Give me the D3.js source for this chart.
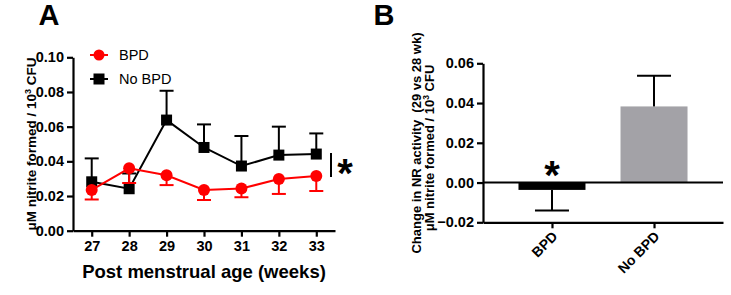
<!DOCTYPE html>
<html>
<head>
<meta charset="utf-8">
<script src="https://cdn.jsdelivr.net/npm/d3@7"></script>
<style>
  body { margin: 0; background: #fff; }
  svg { display: block; font-family: "Liberation Sans", Arial, sans-serif; font-weight: bold; }
</style>
</head>
<body>
<div id="root"></div>
<script>
// panel A data
const weeks = [27, 28, 29, 30, 31, 32, 33];
const bpdMean = [0.0235, 0.036, 0.032, 0.0235, 0.0243, 0.0298, 0.0315];
const bpdLower = [0.018, 0.0275, 0.0263, 0.0177, 0.0193, 0.0212, 0.0229];
const noBpdMean = [0.0282, 0.0242, 0.0638, 0.048, 0.0373, 0.0436, 0.0442];
const noBpdUpper = [0.0417, 0.033, 0.0807, 0.0613, 0.0546, 0.06, 0.0561];
const yTicksA = [0, 0.02, 0.04, 0.06, 0.08, 0.1];

// panel B data
const groups = ["BPD", "No BPD"];
const changeMean = [-0.0037, 0.0383];
const changeErr = [-0.0141, 0.0537];
const yTicksB = [-0.02, 0, 0.02, 0.04, 0.06];

window.onload = function() {
  init();
};

let init = () => {
  let svg = d3.select("#root").append("svg").attr("width", 731).attr("height", 295);
  drawA(svg);
  drawB(svg);
};

// axis text styling shared by both panels
let styleAxis = (a, size) => {
  a.attr("font-size", size).attr("font-family", null);
  a.select(".domain").attr("stroke-width", 2.2).attr("stroke", "#000");
  a.selectAll(".tick line").attr("stroke-width", 2.2);
  a.selectAll("text").attr("font-weight", "bold");
};

let drawA = svg => {
  let x = d3.scaleLinear().domain([26.5, 33.5]).range([73, 335]);
  let y = d3.scaleLinear().domain([0, 0.1]).range([230.7, 57.3]);
  let g = svg.append("g");

  // axes
  let yAxis = d3.axisLeft(y).tickValues(yTicksA).tickFormat(d3.format(".2f")).tickSize(6).tickSizeOuter(0);
  let xAxis = d3.axisBottom(x).tickValues(weeks).tickFormat(d3.format("d")).tickSize(6).tickSizeOuter(0);
  let ya = g.append("g").attr("transform", "translate(73,0)").call(yAxis);
  let xa = g.append("g").attr("transform", "translate(0,230.7)").call(xAxis);
  styleAxis(ya, 14.5);
  styleAxis(xa, 14.5);
  ya.selectAll("text").attr("x", -9);
  xa.selectAll("text").attr("y", 10);

  // titles
  g.append("text").attr("x", 49).attr("y", 25).attr("text-anchor", "middle")
    .attr("font-size", 29).text("A");
  g.append("text").attr("x", 204).attr("y", 278).attr("text-anchor", "middle")
    .attr("font-size", 18.5).text("Post menstrual age (weeks)");
  let yt = g.append("text").attr("transform", "translate(36,144) rotate(-90)")
    .attr("text-anchor", "middle").attr("font-size", 13.5);
  yt.append("tspan").text("μM nitrite formed / 10");
  yt.append("tspan").attr("dy", -5).attr("font-size", 9).text("3");
  yt.append("tspan").attr("dy", 5).text(" CFU");

  let line = d3.line().x((d, i) => x(weeks[i])).y(d => y(d));

  // No BPD series (black, error up)
  let nb = g.append("g");
  weeks.forEach((w, i) => {
    nb.append("line").attr("x1", x(w)).attr("x2", x(w)).attr("y1", y(noBpdMean[i])).attr("y2", y(noBpdUpper[i]))
      .attr("stroke", "#000").attr("stroke-width", 2);
    nb.append("line").attr("x1", x(w) - 7).attr("x2", x(w) + 7).attr("y1", y(noBpdUpper[i])).attr("y2", y(noBpdUpper[i]))
      .attr("stroke", "#000").attr("stroke-width", 2);
  });
  nb.append("path").datum(noBpdMean).attr("d", line).attr("fill", "none").attr("stroke", "#000").attr("stroke-width", 2);
  nb.selectAll("rect").data(noBpdMean).enter().append("rect")
    .attr("x", (d, i) => x(weeks[i]) - 5.5).attr("y", d => y(d) - 5.5)
    .attr("width", 11).attr("height", 11).attr("fill", "#000");

  // BPD series (red, error down)
  let rb = g.append("g");
  weeks.forEach((w, i) => {
    rb.append("line").attr("x1", x(w)).attr("x2", x(w)).attr("y1", y(bpdMean[i])).attr("y2", y(bpdLower[i]))
      .attr("stroke", "#f00").attr("stroke-width", 2);
    rb.append("line").attr("x1", x(w) - 7).attr("x2", x(w) + 7).attr("y1", y(bpdLower[i])).attr("y2", y(bpdLower[i]))
      .attr("stroke", "#f00").attr("stroke-width", 2);
  });
  rb.append("path").datum(bpdMean).attr("d", line).attr("fill", "none").attr("stroke", "#f00").attr("stroke-width", 2);
  rb.selectAll("circle").data(bpdMean).enter().append("circle")
    .attr("cx", (d, i) => x(weeks[i])).attr("cy", d => y(d)).attr("r", 6).attr("fill", "#f00");

  // legend
  let lg = g.append("g");
  lg.append("line").attr("x1", 90).attr("x2", 108).attr("y1", 55).attr("y2", 55).attr("stroke", "#f00").attr("stroke-width", 2);
  lg.append("circle").attr("cx", 99).attr("cy", 55).attr("r", 5.5).attr("fill", "#f00");
  lg.append("text").attr("x", 119).attr("y", 60).attr("font-size", 14.5).attr("font-weight", "normal").text("BPD");
  lg.append("line").attr("x1", 90).attr("x2", 108).attr("y1", 79).attr("y2", 79).attr("stroke", "#000").attr("stroke-width", 2);
  lg.append("rect").attr("x", 93.5).attr("y", 73.5).attr("width", 11).attr("height", 11).attr("fill", "#000");
  lg.append("text").attr("x", 119).attr("y", 84).attr("font-size", 14.5).attr("font-weight", "normal").text("No BPD");

  // significance
  g.append("line").attr("x1", 331).attr("x2", 331).attr("y1", 153).attr("y2", 177).attr("stroke", "#000").attr("stroke-width", 2);
  g.append("text").attr("x", 345).attr("y", 187).attr("text-anchor", "middle").attr("font-size", 40).text("*");
};

let drawB = svg => {
  let x = d3.scalePoint().domain(groups).range([483, 723]).padding(0.676);
  let y = d3.scaleLinear().domain([-0.02, 0.06]).range([222.3, 63.3]);
  let g = svg.append("g");
  let bw = 67;

  // bars
  g.selectAll("rect.bar").data(changeMean).enter().append("rect").attr("class", "bar")
    .attr("x", (d, i) => x(groups[i]) - bw / 2)
    .attr("y", d => Math.min(y(d), y(0)))
    .attr("width", bw)
    .attr("height", d => Math.abs(y(d) - y(0)))
    .attr("fill", (d, i) => i === 0 ? "#000" : "#a3a2a7");

  // error bars
  changeMean.forEach((m, i) => {
    let cx = x(groups[i]);
    g.append("line").attr("x1", cx).attr("x2", cx).attr("y1", y(m)).attr("y2", y(changeErr[i]))
      .attr("stroke", "#000").attr("stroke-width", 2);
    g.append("line").attr("x1", cx - 17).attr("x2", cx + 17).attr("y1", y(changeErr[i])).attr("y2", y(changeErr[i]))
      .attr("stroke", "#000").attr("stroke-width", 2);
  });

  // zero line
  g.append("line").attr("x1", 483).attr("x2", 723).attr("y1", y(0)).attr("y2", y(0)).attr("stroke", "#000").attr("stroke-width", 2);

  // axes
  let yAxis = d3.axisLeft(y).tickValues(yTicksB).tickFormat(d3.format(".2f")).tickSize(6).tickSizeOuter(0);
  let xAxis = d3.axisBottom(x).tickSize(6).tickSizeOuter(0);
  let ya = g.append("g").attr("transform", "translate(483,0)").call(yAxis);
  let xa = g.append("g").attr("transform", "translate(0,222.3)").call(xAxis);
  styleAxis(ya, 14.5);
  styleAxis(xa, 14);
  ya.selectAll("text").attr("x", -9);
  xa.selectAll("text").attr("text-anchor", "end").attr("dy", null)
    .attr("transform", "translate(6,15) rotate(-45)").attr("y", 0).attr("x", 0);

  // significance
  g.append("text").attr("x", x("BPD")).attr("y", 189).attr("text-anchor", "middle").attr("font-size", 40).text("*");

  // titles
  g.append("text").attr("x", 384).attr("y", 25).attr("text-anchor", "middle").attr("font-size", 29).text("B");
  g.append("text").attr("transform", "translate(421,143) rotate(-90)").attr("text-anchor", "middle")
    .attr("font-size", 13).attr("xml:space", "preserve").text("Change in NR activity  (29 vs 28 wk)");
  let yt = g.append("text").attr("transform", "translate(434,148) rotate(-90)")
    .attr("text-anchor", "middle").attr("font-size", 13);
  yt.append("tspan").text("μM nitrite formed / 10");
  yt.append("tspan").attr("dy", -5).attr("font-size", 8.5).text("3");
  yt.append("tspan").attr("dy", 5).text(" CFU");
};
</script>
</body>
</html>
